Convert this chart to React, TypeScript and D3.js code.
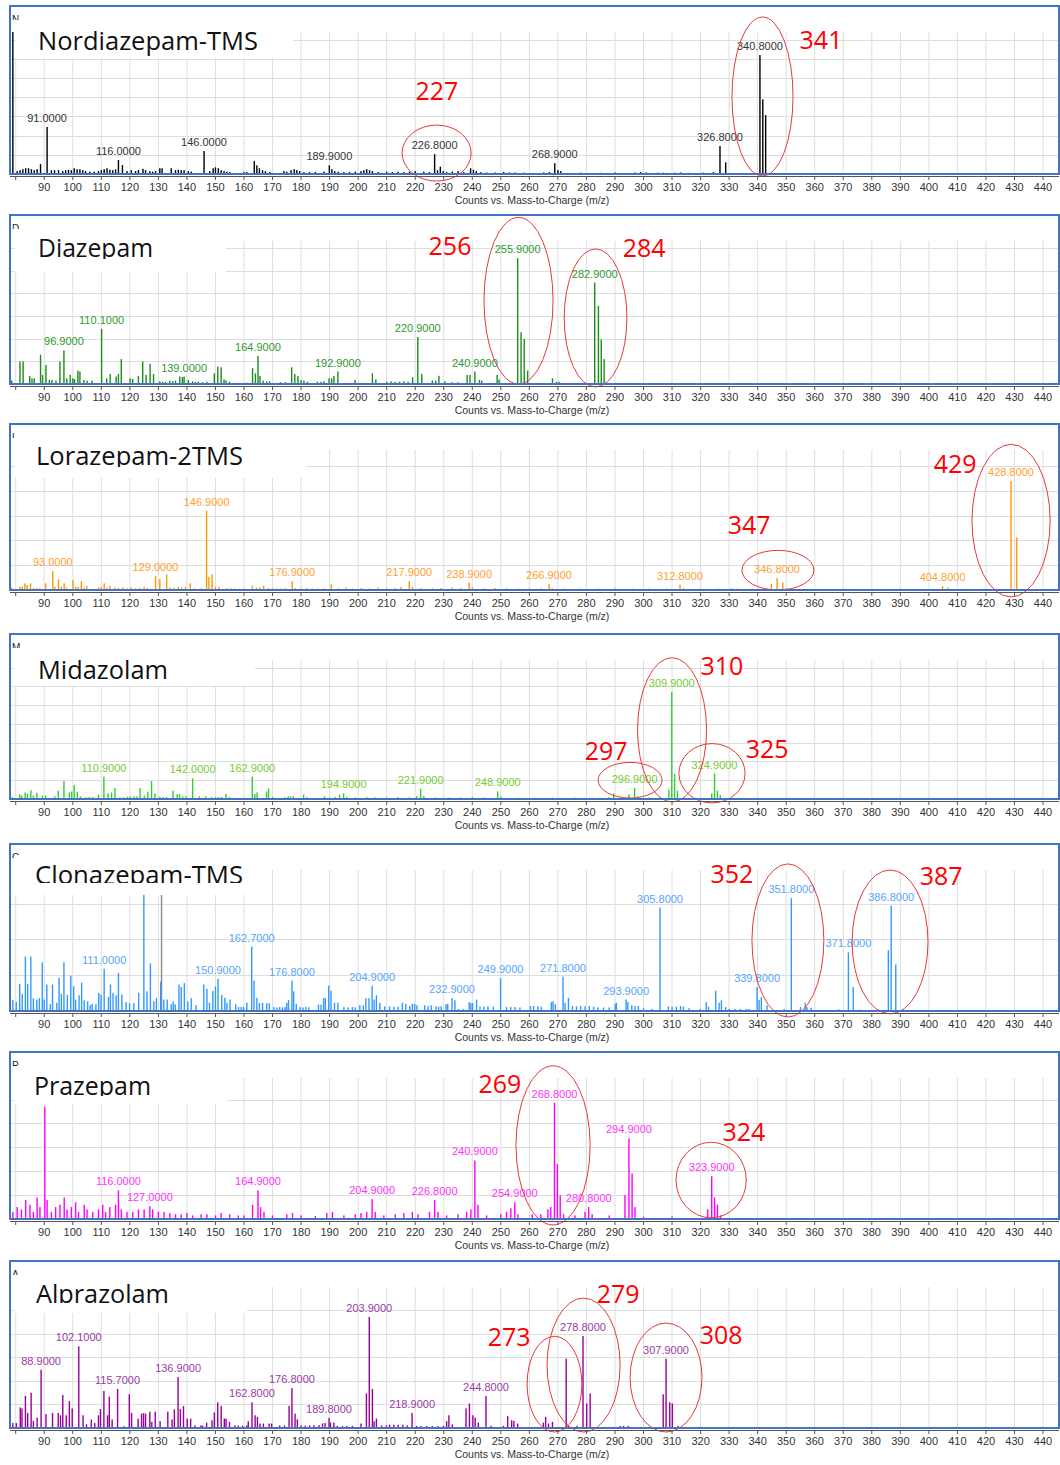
import React from "react";
import * as d3 from "d3";

type Peak = [number, number];
type Mark = [string, number, number];
type Ring = [number, number, number, number];

// m/z axis
const mzDomain = [78, 445.6];
const mzTicks = d3.range(80, 441, 10);

const compoundNames = ["Nordiazepam-TMS", "Diazepam", "Lorazepam-2TMS", "Midazolam", "Clonazepam-TMS", "Prazepam", "Alprazolam"];

// abundance in units of one y grid step
const yMaxes = [7.4, 6.3, 5.65, 7.4, 3.94, 5.9, 5.98];

const nordiazepamPeaks: Peak[] = [
  [79.0, 7.5], [80.5, 0.15], [81.5, 0.2], [82.5, 0.25], [83.5, 0.3], [84.5, 0.3], [85.5, 0.25], [86.5, 0.2], [87.5, 0.25], [88.7, 0.52],
  [91.0, 2.45], [92.5, 0.2], [93.6, 0.2], [95, 0.2], [96.5, 0.15], [97.5, 0.2], [98.5, 0.22], [99.5, 0.2], [100.5, 0.3], [101.5, 0.25],
  [102.5, 0.25], [103.5, 0.2], [104.5, 0.15], [106, 0.12], [107.5, 0.12], [109, 0.15], [110, 0.2], [111, 0.25], [112, 0.3], [113, 0.22],
  [114, 0.2], [115, 0.25], [116.0, 0.73], [117.4, 0.47], [119, 0.15], [120.5, 0.2], [122, 0.15], [123, 0.2], [124.6, 0.27], [125.5, 0.2],
  [127, 0.15], [128, 0.12], [129, 0.15], [130.5, 0.3], [131.3, 0.3], [134.5, 0.3], [136, 0.2], [137, 0.22], [138, 0.2], [139, 0.2],
  [140.5, 0.15], [141.5, 0.12], [146.0, 1.2], [148, 0.15], [149.2, 0.3], [150, 0.35], [151, 0.3], [152, 0.2], [153, 0.15], [154, 0.12],
  [155, 0.1], [160, 0.1], [161, 0.1], [163.6, 0.68], [164.5, 0.45], [165.4, 0.3], [166.5, 0.2], [167.5, 0.15], [169, 0.1], [174, 0.15],
  [175, 0.12], [176.5, 0.2], [177.6, 0.25], [178.5, 0.2], [179.5, 0.15], [181, 0.1], [183, 0.1], [185, 0.1], [188, 0.12], [189.9, 0.45],
  [190.8, 0.25], [191.8, 0.15], [193, 0.12], [195, 0.1], [197, 0.1], [199, 0.12], [201, 0.15], [202, 0.2], [203, 0.25], [204, 0.2],
  [205, 0.15], [207, 0.1], [210, 0.12], [212, 0.1], [214, 0.12], [216, 0.1], [218, 0.12], [220, 0.15], [223, 0.12], [225, 0.1],
  [226.8, 1.03], [227.8, 0.2], [228.8, 0.38], [229.8, 0.15], [231, 0.1], [233, 0.12], [235, 0.15], [237, 0.1], [239.4, 0.3], [240.4, 0.22],
  [241.4, 0.15], [243, 0.1], [245, 0.08], [248, 0.08], [251, 0.1], [253, 0.08], [255, 0.08], [258, 0.07], [265, 0.08], [267, 0.1],
  [268.9, 0.56], [270, 0.2], [271, 0.15], [278, 0.07], [285, 0.06], [290, 0.08], [297, 0.08], [299, 0.1], [301, 0.08], [305, 0.07],
  [307, 0.07], [311, 0.07], [313, 0.08], [316, 0.06], [321, 0.07], [324.5, 0.1], [326.8, 1.46], [328.8, 0.61], [340.8, 6.2], [341.8, 3.89],
  [342.8, 3.07],
];
const nordiazepamLabels = [91.0, 116.0, 146.0, 189.9, 226.8, 268.9, 326.8, 340.8];
const nordiazepamMarks: Mark[] = [["227", 227.6, 3.85], ["341", 362.2, 6.51]];
const nordiazepamRings: Ring[] = [[227.5, 1.09, 12.1, 1.46], [341.7, 4.04, 10.7, 4.14]];

const diazepamPeaks: Peak[] = [
  [78.6, 0.15], [81.5, 0.99], [82.6, 0.99], [84.9, 0.36], [85.7, 0.25], [86.5, 0.25], [88.7, 1.29], [89.4, 0.4], [90.6, 0.84], [91.8, 0.18],
  [92.7, 0.18], [94.1, 0.15], [95.5, 0.99], [96.9, 1.48], [97.9, 0.25], [99.1, 0.4], [100, 0.25], [100.6, 0.22], [101.8, 0.59], [102.5, 0.55],
  [103.9, 0.18], [105, 0.15], [106.7, 0.15], [110.1, 2.43], [111.9, 0.25], [113.1, 0.44], [115.2, 0.33], [116, 0.44], [117, 1.1], [120.1, 0.25],
  [121, 0.22], [123, 0.36], [124.5, 0.99], [125.7, 0.4], [127.1, 0.89], [128.3, 0.44], [130.5, 0.12], [131.5, 0.1], [132.5, 0.1], [134, 0.15],
  [135, 0.13], [136, 0.15], [137.5, 0.33], [138.4, 0.3], [139.0, 0.33], [140.5, 0.18], [142, 0.12], [143, 0.1], [144, 0.1], [145.5, 0.08],
  [147, 0.1], [149.6, 0.47], [150.8, 0.77], [152, 0.74], [153, 0.2], [153.7, 0.15], [154.9, 0.1], [161, 0.06], [163, 0.7], [164, 0.47],
  [164.9, 1.24], [165.6, 0.36], [166.7, 0.15], [168, 0.12], [169, 0.12], [172.8, 0.08], [174.6, 0.08], [176.7, 0.74], [177.8, 0.44], [178.9, 0.36],
  [180, 0.18], [181, 0.15], [182.2, 0.1], [185.7, 0.1], [187, 0.1], [188, 0.12], [189.8, 0.25], [190.7, 0.25], [191.5, 0.36], [192.9, 0.55],
  [198.9, 0.18], [205, 0.47], [206.2, 0.2], [210, 0.1], [211.5, 0.12], [213, 0.1], [214.5, 0.1], [216, 0.12], [217.5, 0.1], [219.1, 0.3],
  [220.9, 2.07], [222.3, 0.44], [226, 0.15], [227.2, 0.15], [228.3, 0.36], [230.4, 0.12], [233, 0.08], [235, 0.08], [238.2, 0.4], [239.2, 0.4],
  [240.9, 0.55], [242.5, 0.18], [243.3, 0.15], [248.7, 0.4], [249.4, 0.2], [255.9, 5.54], [257.1, 2.28], [258.2, 1.99], [259.4, 0.59], [268.1, 0.25],
  [269.5, 0.1], [270.4, 0.1], [282.9, 4.47], [284.2, 3.44], [285.2, 1.96], [286.2, 1.1],
];
const diazepamLabels = [96.9, 110.1, 139.0, 164.9, 192.9, 220.9, 240.9, 255.9, 282.9];
const diazepamMarks: Mark[] = [["256", 232.2, 5.69], ["284", 300.2, 5.6]];
const diazepamRings: Ring[] = [[256.2, 3.67, 12.1, 3.67], [283.2, 2.91, 11.0, 3.04]];

const lorazepamPeaks: Peak[] = [
  [78.6, 0.1], [81.5, 0.13], [82.3, 0.13], [83.2, 0.27], [84, 0.2], [85.2, 0.27], [86.3, 0.08], [87.5, 0.07], [88.5, 0.07], [90.5, 0.27],
  [93.0, 0.76], [93.7, 0.13], [95, 0.43], [96, 0.13], [97, 0.27], [97.8, 0.1], [100.1, 0.4], [101, 0.13], [101.9, 0.13], [103, 0.36],
  [103.9, 0.1], [104.9, 0.17], [106, 0.05], [109, 0.1], [110, 0.13], [111, 0.27], [112, 0.1], [113, 0.17], [114.7, 0.1], [116, 0.08],
  [117.5, 0.1], [119, 0.07], [120.5, 0.1], [122, 0.07], [123.5, 0.08], [125, 0.13], [126, 0.08], [129.0, 0.57], [130.5, 0.44], [132.9, 0.63],
  [134, 0.1], [135.5, 0.08], [137, 0.13], [138.2, 0.1], [139.5, 0.13], [141.2, 0.27], [142.5, 0.07], [145, 0.07], [146.9, 3.2], [147.7, 0.53],
  [148.8, 0.63], [150, 0.13], [151.2, 0.13], [154, 0.07], [155.5, 0.07], [157, 0.06], [158.5, 0.06], [160, 0.06], [162.9, 0.17], [164.4, 0.1],
  [165.5, 0.1], [166.9, 0.17], [168.5, 0.08], [170, 0.07], [171.5, 0.06], [173, 0.06], [174.5, 0.07], [176.9, 0.36], [178, 0.08], [180, 0.07],
  [182, 0.08], [184, 0.06], [186, 0.06], [188, 0.07], [190.6, 0.23], [193, 0.07], [195.8, 0.1], [198, 0.07], [201, 0.08], [204, 0.07],
  [207, 0.1], [210, 0.08], [213, 0.08], [215, 0.12], [217.9, 0.35], [219, 0.12], [222, 0.08], [226, 0.07], [229, 0.08], [233, 0.1],
  [236, 0.08], [238.9, 0.3], [240, 0.1], [244, 0.07], [248, 0.08], [252, 0.07], [256, 0.06], [260, 0.06], [264, 0.07], [266.9, 0.25],
  [268, 0.08], [272, 0.06], [278, 0.06], [284, 0.06], [290, 0.07], [296, 0.06], [302, 0.06], [308, 0.06], [312.8, 0.22], [314, 0.07],
  [320, 0.06], [326, 0.06], [331, 0.08], [333, 0.06], [338, 0.06], [344.8, 0.25], [346.8, 0.48], [348.8, 0.3], [350, 0.08], [356, 0.06],
  [362, 0.05], [370, 0.05], [380, 0.05], [390, 0.05], [398, 0.05], [404.8, 0.16], [406.8, 0.1], [413, 0.05], [428.8, 4.4], [430.8, 2.12],
];
const lorazepamLabels = [93.0, 129.0, 146.9, 176.9, 217.9, 238.9, 266.9, 312.8, 346.8, 404.8, 428.8];
const lorazepamMarks: Mark[] = [["429", 409.2, 4.72], ["347", 337.0, 2.24]];
const lorazepamRings: Ring[] = [[428.8, 2.8, 13.7, 3.08], [347.1, 0.8, 12.6, 0.8]];

const midazolamPeaks: Peak[] = [
  [78.8, 0.09], [81.4, 0.26], [82.1, 0.18], [83.3, 0.35], [84.1, 0.3], [85.3, 0.47], [86.2, 0.18], [87.4, 0.33], [89.4, 0.18], [90.5, 0.18],
  [93.7, 0.14], [94.9, 0.44], [96.9, 0.96], [98.8, 0.35], [99.6, 0.4], [100.5, 0.75], [101.6, 0.39], [102.7, 0.14], [104.6, 0.1], [105.8, 0.1],
  [107, 0.1], [109, 0.23], [110.9, 1.19], [112.4, 0.3], [113.6, 0.35], [114.8, 0.58], [116.5, 0.09], [117.8, 0.09], [119.2, 0.12], [120.2, 0.14],
  [121.5, 0.14], [122.5, 0.14], [123.6, 0.58], [125.1, 0.18], [126.3, 0.39], [127.6, 0.96], [128.8, 0.3], [130.5, 0.12], [131.6, 0.1], [132.9, 0.1],
  [135.1, 0.44], [136.6, 0.26], [137.4, 0.26], [138.5, 0.14], [139.7, 0.14], [142.0, 1.1], [144.3, 0.14], [146.6, 0.14], [148.6, 0.1], [150, 0.1],
  [151, 0.1], [152, 0.12], [153.7, 0.26], [154.9, 0.1], [156.5, 0.06], [162.9, 1.19], [163.8, 0.26], [164.6, 0.35], [167.9, 0.4], [168.6, 0.56],
  [170, 0.1], [174.3, 0.1], [175.5, 0.14], [176.3, 0.14], [177.3, 0.14], [180.9, 0.23], [182, 0.1], [188.2, 0.14], [190, 0.08], [192, 0.1],
  [193.5, 0.23], [194.9, 0.3], [196, 0.12], [199, 0.08], [203, 0.1], [206, 0.08], [210, 0.08], [214, 0.1], [218, 0.08], [220.5, 0.15],
  [221.9, 0.55], [223, 0.15], [227, 0.08], [232, 0.08], [236, 0.08], [240, 0.1], [244, 0.08], [248.9, 0.4], [250, 0.12], [256, 0.07],
  [262, 0.07], [268, 0.08], [276, 0.07], [282, 0.07], [288, 0.1], [289.5, 0.3], [294.9, 0.25], [296.9, 0.6], [298, 0.15], [302, 0.08],
  [308.9, 0.5], [309.9, 5.7], [310.9, 1.35], [311.9, 0.45], [318, 0.07], [323.9, 0.3], [324.9, 1.35], [325.9, 0.45], [326.9, 0.2],
];
const midazolamLabels = [110.9, 142.0, 162.9, 194.9, 221.9, 248.9, 296.9, 309.9, 324.9];
const midazolamMarks: Mark[] = [["310", 327.5, 6.58], ["297", 286.9, 2.05], ["325", 343.3, 2.16]];
const midazolamRings: Ring[] = [[310.0, 3.68, 12.1, 3.84], [295.3, 1.0, 11.2, 0.95], [324.0, 1.37, 11.6, 1.58]];

const clonazepamPeaks: Peak[] = [
  [79, 0.31], [80.2, 0.25], [81.4, 0.76], [82.3, 0.48], [83.4, 1.52], [84.2, 0.76], [85.3, 1.52], [86.2, 0.36], [87.4, 0.32], [88.3, 0.36],
  [89.3, 1.36], [90, 0.32], [90.9, 0.74], [92.1, 0.19], [92.9, 0.74], [94.4, 0.23], [95.2, 0.93], [96, 0.48], [96.9, 1.36], [98.1, 0.45],
  [99.3, 0.99], [100.3, 0.69], [101, 0.32], [102.2, 0.44], [103.1, 0.79], [104, 0.3], [105.2, 0.27], [106.1, 0.16], [106.8, 0.2], [108.1, 0.19],
  [109.1, 0.51], [109.9, 0.46], [111.0, 1.18], [112.5, 0.39], [113.2, 0.74], [114.1, 0.51], [115.2, 0.44], [116, 1.06], [117.2, 0.46], [118.7, 0.25],
  [119.9, 0.22], [121.4, 0.22], [123.1, 0.51], [124.9, 3.95], [126, 0.55], [127.2, 1.33], [128.4, 0.27], [129.3, 0.36], [130.8, 0.82], [131.9, 0.32],
  [133.1, 0.32], [134.5, 0.19], [135.2, 0.27], [135.9, 0.19], [137.2, 0.74], [138, 0.67], [139.1, 0.78], [140.3, 0.27], [141.5, 0.36], [143.2, 0.16],
  [145.9, 0.74], [147, 0.62], [147.9, 0.23], [149.1, 0.56], [150, 0.69], [150.9, 0.9], [152.2, 0.45], [153.3, 0.37], [154, 0.23], [155.1, 0.32],
  [157.1, 0.19], [158.1, 0.11], [159, 0.11], [159.8, 0.11], [161, 0.23], [162.7, 1.8], [163.5, 0.85], [164.5, 0.37], [165.4, 0.22], [166.5, 0.23],
  [168, 0.22], [168.9, 0.22], [170.5, 0.11], [171.5, 0.1], [172.5, 0.11], [173.5, 0.1], [174.4, 0.11], [175, 0.23], [175.6, 0.31], [176.8, 0.85],
  [177.4, 0.55], [178.3, 0.2], [179.7, 0.11], [180.7, 0.1], [181.7, 0.11], [182.7, 0.1], [186.1, 0.18], [187, 0.18], [187.9, 0.36], [188.5, 0.36],
  [189.7, 0.71], [190.5, 0.57], [191.7, 0.23], [192.9, 0.23], [195, 0.11], [196.5, 0.1], [198, 0.11], [199, 0.1], [200.6, 0.16], [201.8, 0.16],
  [202.7, 0.36], [203.8, 0.36], [204.9, 0.71], [205.6, 0.32], [206.4, 0.44], [207.6, 0.23], [209.3, 0.13], [211, 0.13], [212.5, 0.12], [214, 0.12],
  [215.5, 0.23], [216.7, 0.2], [218.1, 0.14], [219, 0.2], [219.8, 0.2], [220.6, 0.16], [223.3, 0.16], [224.5, 0.14], [225.6, 0.16], [227.3, 0.13],
  [228.2, 0.12], [229.1, 0.13], [230.8, 0.19], [231.4, 0.2], [232.9, 0.36], [233.9, 0.3], [235, 0.06], [236.9, 0.06], [238.9, 0.25], [239.5, 0.22],
  [240.1, 0.22], [241.5, 0.32], [242.7, 0.13], [244, 0.12], [245.5, 0.13], [247.4, 0.12], [249.9, 0.92], [252, 0.11], [253.5, 0.11], [255, 0.11],
  [256.7, 0.1], [260.4, 0.14], [261.5, 0.14], [263, 0.13], [264.2, 0.12], [267.7, 0.25], [268.3, 0.27], [269.1, 0.19], [271.8, 0.96], [272.5, 0.23],
  [273.7, 0.37], [275.1, 0.14], [276.5, 0.13], [278, 0.14], [279.5, 0.13], [281, 0.14], [282.5, 0.12], [284, 0.1], [286, 0.1], [288, 0.1],
  [290.1, 0.2], [290.5, 0.23], [293.9, 0.32], [294.5, 0.25], [295.9, 0.16], [297, 0.14], [298.2, 0.14], [300, 0.08], [303, 0.06], [305.8, 2.89],
  [308.7, 0.13], [310, 0.12], [311.5, 0.12], [313, 0.14], [314, 0.12], [316, 0.08], [319.9, 0.06], [322, 0.25], [322.8, 0.12], [325.3, 0.57],
  [326.5, 0.23], [327.3, 0.3], [328.8, 0.11], [330, 0.06], [332, 0.06], [334, 0.06], [336, 0.06], [337, 0.06], [339.8, 0.67], [340.5, 0.31],
  [341.3, 0.39], [343.3, 0.16], [349.3, 0.06], [351.8, 3.15], [355, 0.11], [356.7, 0.23], [357.3, 0.11], [358.7, 0.09], [368.4, 0.05], [371.8, 1.64],
  [373.5, 0.67], [376, 0.04], [385.8, 1.7], [386.8, 2.94], [388.4, 1.3],
];
// grey marker bar in the clonazepam trace
const clonazepamMarker: Peak[] = [[131.1, 3.95]];
const clonazepamLabels = [111.0, 150.9, 162.7, 176.8, 204.9, 232.9, 249.9, 271.8, 293.9, 305.8, 339.8, 351.8, 371.8, 386.8];
const clonazepamMarks: Mark[] = [["352", 331.0, 3.58], ["387", 404.3, 3.53]];
const clonazepamRings: Ring[] = [[350.6, 1.97, 12.6, 2.14], [386.4, 1.93, 13.3, 2.01]];

const prazepamPeaks: Peak[] = [
  [79, 0.3], [80.5, 0.5], [82, 0.4], [83.5, 0.8], [85, 0.6], [86.2, 0.3], [87.5, 0.9], [88.5, 0.5], [90.2, 4.7], [91, 0.8],
  [92.5, 0.3], [94, 0.5], [95.5, 0.6], [97, 0.9], [98, 0.4], [99.5, 0.5], [101, 0.7], [102, 0.3], [104, 0.6], [105, 0.4],
  [107, 0.3], [109, 0.4], [110.5, 0.6], [111.5, 0.3], [113, 0.5], [115, 0.6], [116.0, 1.2], [117, 0.4], [119, 0.3], [121, 0.3],
  [123, 0.4], [125, 0.4], [127.0, 0.54], [128, 0.4], [130, 0.3], [132, 0.3], [134, 0.25], [136, 0.2], [138, 0.2], [140, 0.25],
  [142, 0.15], [145, 0.2], [147, 0.2], [150, 0.15], [152, 0.25], [155, 0.2], [158, 0.15], [160, 0.15], [163, 0.6], [164.9, 1.2],
  [165.8, 0.5], [167, 0.3], [170, 0.15], [175, 0.2], [177, 0.25], [180, 0.15], [185, 0.12], [189, 0.25], [191, 0.3], [195, 0.15],
  [199, 0.2], [201, 0.25], [203, 0.3], [204.9, 0.83], [206, 0.3], [209, 0.15], [213, 0.2], [216, 0.25], [219, 0.3], [221, 0.2],
  [225, 0.3], [226.8, 0.79], [228, 0.3], [231, 0.15], [235, 0.2], [238, 0.3], [239.5, 0.4], [240.9, 2.45], [242, 0.6], [245, 0.15],
  [250, 0.2], [252, 0.3], [253.5, 0.45], [254.9, 0.7], [256, 0.2], [261, 0.2], [264, 0.2], [266.5, 0.4], [267.5, 0.5], [268.8, 4.86],
  [269.8, 2.3], [270.8, 1.0], [272, 0.2], [276, 0.15], [279.5, 0.3], [280.8, 0.5], [282, 0.2], [288, 0.15], [293.5, 1.0], [294.9, 3.37],
  [296, 1.9], [297, 0.5], [300, 0.1], [310, 0.1], [322.5, 0.4], [323.9, 1.79], [324.9, 0.9], [325.9, 0.6], [327, 0.15],
];
const prazepamLabels = [116.0, 127.0, 164.9, 204.9, 226.8, 240.9, 254.9, 268.8, 280.8, 294.9, 323.9];
const prazepamMarks: Mark[] = [["269", 249.7, 5.29], ["324", 335.2, 3.25]];
const prazepamRings: Ring[] = [[268.3, 3.08, 13.0, 3.33], [323.7, 1.63, 12.3, 1.58]];

const alprazolamPeaks: Peak[] = [
  [79, 0.21], [80.2, 0.21], [81.6, 0.87], [82.2, 0.83], [83.4, 1.36], [84.2, 0.64], [85.4, 1.5], [86.2, 0.3], [87.5, 0.44], [88.9, 2.47],
  [90.6, 0.59], [92.9, 0.64], [94.9, 0.64], [95.7, 0.54], [96.5, 1.4], [97.7, 0.54], [98.8, 1.14], [99.8, 0.83], [102.1, 3.46], [103.6, 0.54],
  [104.8, 0.16], [106.5, 0.36], [107.7, 0.21], [109, 0.54], [109.7, 0.8], [110.9, 1.57], [112.2, 0.54], [112.8, 1.33], [113.8, 0.36], [115.7, 1.66],
  [118, 0.07], [119.8, 1.43], [120.6, 0.64], [122.9, 0.4], [124.1, 0.61], [124.8, 0.63], [125.5, 0.61], [127, 0.69], [127.7, 0.26], [128.9, 0.69],
  [130.6, 0.29], [133.3, 0.69], [134.8, 0.36], [135.6, 0.79], [136.9, 2.16], [137.7, 0.8], [138.8, 0.93], [140.1, 0.4], [141.3, 0.4], [142.8, 0.11],
  [144.9, 0.11], [145.5, 0.1], [146.9, 0.23], [148.8, 0.33], [149.6, 0.66], [150.8, 1.09], [152, 0.94], [153.1, 0.4], [153.7, 0.4], [154.9, 0.26],
  [156.8, 0.11], [158, 0.1], [159.5, 0.1], [161, 0.11], [161.5, 0.29], [162.8, 1.09], [163.9, 0.54], [164.7, 0.47], [165.6, 0.19], [166.8, 0.19],
  [168.8, 0.19], [169.7, 0.19], [172.5, 0.11], [174.2, 0.11], [175.8, 0.94], [176.8, 1.69], [177.9, 0.61], [178.7, 0.37], [180, 0.11], [181.5, 0.1],
  [183, 0.11], [184.5, 0.12], [186.3, 0.12], [187.5, 0.19], [188.4, 0.21], [189.8, 0.43], [190.3, 0.23], [191.5, 0.23], [192.7, 0.09], [194.5, 0.08],
  [196, 0.09], [198, 0.09], [201, 0.19], [202.9, 1.47], [203.9, 4.71], [205, 1.66], [205.6, 0.29], [206.4, 0.4], [208.2, 0.11], [209.9, 0.11],
  [211, 0.14], [212.5, 0.14], [214, 0.14], [215.7, 0.14], [217.2, 0.11], [218.9, 0.64], [220.5, 0.09], [222, 0.08], [224, 0.09], [226, 0.08],
  [228, 0.08], [229.9, 0.09], [231, 0.29], [231.8, 0.54], [233, 0.16], [237.8, 0.83], [239, 1.04], [240.2, 0.54], [241, 0.44], [242.1, 0.23],
  [244.8, 1.36], [246.6, 0.09], [250.9, 0.09], [252.4, 0.5], [253.8, 0.33], [254.6, 0.3], [255.9, 0.19], [264.9, 0.23], [265.7, 0.47], [266.7, 0.19],
  [268.1, 0.26], [272.9, 2.94], [273.7, 0.09], [276.7, 0.09], [278.8, 3.9], [280.1, 1.04], [281.3, 1.47], [291.8, 0.09], [293, 0.09], [294.7, 0.09],
  [306.9, 1.43], [307.9, 2.94], [309.2, 1.09], [310.1, 1.04], [312.1, 0.09],
];
const alprazolamLabels = [88.9, 102.1, 115.7, 136.9, 162.8, 176.8, 189.8, 203.9, 218.9, 244.8, 278.8, 307.9];
const alprazolamMarks: Mark[] = [["273", 252.9, 3.47], ["279", 291.1, 5.3], ["308", 327.2, 3.56]];
const alprazolamRings: Ring[] = [[268.8, 1.86, 9.6, 2.03], [279.0, 2.67, 12.8, 2.84], [307.9, 2.14, 12.6, 2.31]];

const spectra = [nordiazepamPeaks, diazepamPeaks, lorazepamPeaks, midazolamPeaks, clonazepamPeaks, prazepamPeaks, alprazolamPeaks];
const peakLabels = [nordiazepamLabels, diazepamLabels, lorazepamLabels, midazolamLabels, clonazepamLabels, prazepamLabels, alprazolamLabels];
const redMarks = [nordiazepamMarks, diazepamMarks, lorazepamMarks, midazolamMarks, clonazepamMarks, prazepamMarks, alprazolamMarks];
const redRings = [nordiazepamRings, diazepamRings, lorazepamRings, midazolamRings, clonazepamRings, prazepamRings, alprazolamRings];

// styling / layout
const barColors = ["#000000", "#1e8c1e", "#ff9900", "#33cc33", "#3399ff", "#ff00ff", "#990099"];
const labelColors = ["#333333", "#2f9a2f", "#ffa030", "#77cc33", "#55a5ff", "#ff33ff", "#9a3aa8"];
const panelTops = [6, 215, 424, 634, 844, 1052, 1261];
const baselines = [174, 384, 590, 799, 1011, 1219, 1428];
const boxWidths = [278, 211, 291, 240, 236, 212, 232];
const boxBottoms = [52, 57, 54, 52, 51, 52, 52];
const titleX = [38, 38, 36, 38, 35, 34, 36];
const titleW = [220, 115, 207, 130, 208, 117, 133];
const titleBase = [44, 42, 41, 45, 40, 43, 42];
const titleClip = [60, 44, 43, 60, 39, 44, 42];

const ForkSpectra = () => {
  const ref = React.useRef<SVGSVGElement>(null);

  React.useEffect(() => {
    const svg = d3.select(ref.current);
    svg.selectAll("*").remove();

    const x = d3.scaleLinear().domain(mzDomain).range([10, 1059]);
    const defs = svg.append("defs");

    spectra.forEach((peaks, i) => {
      const top = panelTops[i];
      const base = baselines[i];
      const plotTop = top + 26;
      const y = d3.scaleLinear().domain([0, yMaxes[i]]).range([base, plotTop]);
      const step = (base - plotTop) / yMaxes[i];
      const g = svg.append("g");

      defs.append("clipPath").attr("id", `plot${i}`)
        .append("rect").attr("x", 10).attr("y", plotTop).attr("width", 1049).attr("height", base - plotTop);
      defs.append("clipPath").attr("id", `title${i}`)
        .append("rect").attr("x", 15).attr("y", top + 2).attr("width", boxWidths[i]).attr("height", titleClip[i] - 2);
      defs.append("clipPath").attr("id", `tiny${i}`)
        .append("rect").attr("x", 10).attr("y", top + 7).attr("width", 10).attr("height", 7);

      // grid
      g.append("g").selectAll("line").data(mzTicks).join("line")
        .attr("x1", d => x(d)).attr("x2", d => x(d))
        .attr("y1", plotTop).attr("y2", base)
        .attr("stroke", "#dedede").attr("stroke-width", 1);
      g.append("g").selectAll("line").data(d3.range(1, Math.floor(yMaxes[i]) + 1)).join("line")
        .attr("x1", 10).attr("x2", 1059)
        .attr("y1", d => Math.round(y(d)) + 0.5).attr("y2", d => Math.round(y(d)) + 0.5)
        .attr("stroke", "#dedede").attr("stroke-width", 1);

      // bars
      const bars = g.append("g").attr("clip-path", `url(#plot${i})`);
      if (i === 4) {
        bars.selectAll("rect.marker").data(clonazepamMarker).join("rect")
          .attr("class", "marker")
          .attr("x", d => x(d[0]) - 0.7).attr("width", 1.4)
          .attr("y", d => y(d[1])).attr("height", d => base - y(d[1]))
          .attr("fill", "#8a8a8a");
      }
      bars.selectAll("rect.peak").data(peaks).join("rect")
        .attr("class", "peak")
        .attr("x", d => x(d[0]) - 0.7).attr("width", 1.4)
        .attr("y", d => y(d[1])).attr("height", d => base - y(d[1]))
        .attr("fill", barColors[i]);

      // peak labels
      const labelled = peakLabels[i].map(mz => peaks.find(p => p[0] === mz) as Peak);
      g.append("g").selectAll("text").data(labelled).join("text")
        .attr("x", d => x(d[0])).attr("y", d => y(d[1]) - 5)
        .attr("text-anchor", "middle")
        .attr("font-family", "'Liberation Sans', Arial, sans-serif")
        .attr("font-size", 11)
        .attr("fill", labelColors[i])
        .text(d => d[0].toFixed(4));

      // title box
      g.append("rect").attr("x", 15).attr("y", top + 2)
        .attr("width", boxWidths[i]).attr("height", boxBottoms[i] - 2).attr("fill", "#fff");
      g.append("text")
        .attr("clip-path", `url(#tiny${i})`)
        .attr("x", 12).attr("y", top + 17)
        .attr("font-family", "'Liberation Sans', Arial, sans-serif").attr("font-size", 10).attr("fill", "#222")
        .text(compoundNames[i][0]);
      g.append("text")
        .attr("clip-path", `url(#title${i})`)
        .attr("x", titleX[i]).attr("y", top + titleBase[i])
        .attr("font-family", "'Open Sans', sans-serif").attr("font-size", 25)
        .attr("textLength", titleW[i]).attr("lengthAdjust", "spacingAndGlyphs")
        .attr("fill", "#111")
        .text(compoundNames[i]);

      // red annotations
      g.append("g").selectAll("ellipse").data(redRings[i]).join("ellipse")
        .attr("cx", d => x(d[0])).attr("cy", d => y(d[1]))
        .attr("rx", d => d[2] * (x(1) - x(0))).attr("ry", d => d[3] * step)
        .attr("fill", "none").attr("stroke", "#e8383a").attr("stroke-width", 1);
      g.append("g").selectAll("text").data(redMarks[i]).join("text")
        .attr("x", d => x(d[1])).attr("y", d => y(d[2]))
        .attr("text-anchor", "middle")
        .attr("font-family", "'Open Sans', sans-serif").attr("font-size", 25)
        .attr("fill", "#ff0000")
        .text(d => d[0]);

      // frame
      g.append("rect").attr("x", 10).attr("y", top).attr("width", 1049).attr("height", base - top)
        .attr("fill", "none").attr("stroke", "#4472c4").attr("stroke-width", 2);

      // m/z axis
      const ax = g.append("g");
      ax.append("line").attr("x1", 10).attr("x2", 1059).attr("y1", base + 2.5).attr("y2", base + 2.5)
        .attr("stroke", "#555").attr("stroke-width", 1);
      ax.selectAll("line.tick").data(mzTicks).join("line")
        .attr("class", "tick")
        .attr("x1", d => x(d)).attr("x2", d => x(d))
        .attr("y1", base + 2.5).attr("y2", base + 6)
        .attr("stroke", "#555").attr("stroke-width", 1);
      ax.selectAll("text").data(mzTicks.filter(d => d >= 90)).join("text")
        .attr("x", d => x(d)).attr("y", base + 17)
        .attr("text-anchor", "middle")
        .attr("font-family", "'Liberation Sans', Arial, sans-serif").attr("font-size", 11)
        .attr("fill", "#333")
        .text(d => d);
      ax.append("text").attr("x", 532).attr("y", base + 30)
        .attr("text-anchor", "middle")
        .attr("font-family", "'Liberation Sans', Arial, sans-serif").attr("font-size", 10.5)
        .attr("fill", "#333")
        .text("Counts vs. Mass-to-Charge (m/z)");
    });
  }, []);

  return (
    <svg
      ref={ref}
      width={1060}
      height={1465}
      style={{ position: "absolute", left: 0, top: 0, background: "#fff" }}
    />
  );
};

export default function App() {
  return <ForkSpectra />;
}
